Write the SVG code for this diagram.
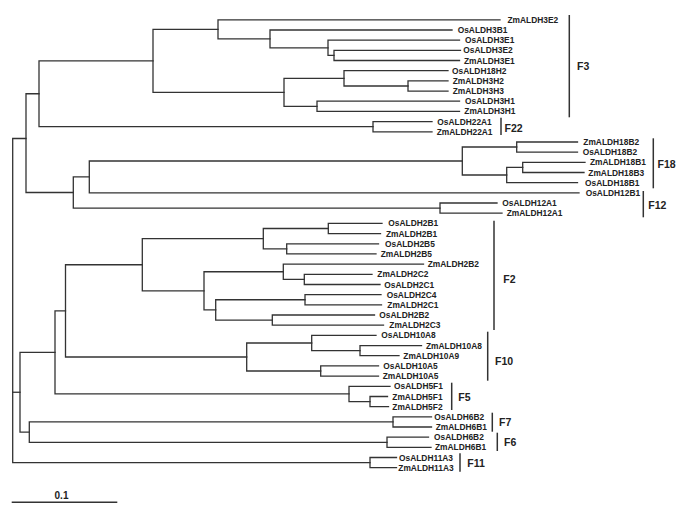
<svg xmlns="http://www.w3.org/2000/svg" width="685" height="521" viewBox="0 0 685 521">
<style>
.br{fill:none;stroke:#333;stroke-width:1.3;stroke-linecap:square;stroke-linejoin:miter}
.bar{stroke:#333;stroke-width:1.5}
.lf{font-family:"Liberation Sans",Arial,sans-serif;font-size:8.4px;font-weight:bold;fill:#222}
.fam{font-family:"Liberation Sans",Arial,sans-serif;font-size:10.5px;font-weight:bold;fill:#222}
</style>
<rect width="685" height="521" fill="#fff"/>
<g id="connectors" class="br">
<path d="M460.5,50.3 H334 V60.5 H459.5"/>
<path d="M459.5,40.2 H328 V55.4 H334"/>
<path d="M452,30 H270 V47.8 H328"/>
<path d="M500,19.8 H218 V38.9 H270"/>
<path d="M448,80.9 H408 V91.1 H448"/>
<path d="M448,70.7 H344 V86 H408"/>
<path d="M459.5,101.2 H317 V111.4 H459.5"/>
<path d="M344,78.35 H284 V106.3 H317"/>
<path d="M218,29.35 H153 V92.3 H284"/>
<path d="M432,121.6 H373 V131.8 H432"/>
<path d="M153,60.8 H39 V126.7 H373"/>
<path d="M577.5,142 H516.7 V152.1 H577.5"/>
<path d="M585,162.3 H522.7 V172.5 H584"/>
<path d="M522.7,167.4 H506.7 V182.7 H577.5"/>
<path d="M516.7,147 H462.3 V175 H506.7"/>
<path d="M462.3,161 H89.3 V192.9 H579"/>
<path d="M497,203 H440 V213.2 H502"/>
<path d="M89.3,176.95 H73.3 V208.1 H440"/>
<path d="M39,93.75 H26 V192.5 H73.3"/>
<path d="M382,223.4 H328.3 V233.6 H380.5"/>
<path d="M378.5,243.8 H286.7 V253.9 H376"/>
<path d="M328.3,228.5 H263.3 V248.85 H286.7"/>
<path d="M372,274.3 H304.3 V284.5 H380"/>
<path d="M423.5,264.1 H283.3 V279.4 H304.3"/>
<path d="M381,294.7 H305 V304.8 H381.5"/>
<path d="M374.5,315 H272.3 V325.2 H383.5"/>
<path d="M305,299.75 H215.7 V320.1 H272.3"/>
<path d="M283.3,271.75 H204 V309.9 H215.7"/>
<path d="M263.3,238.7 H142.3 V290.8 H204"/>
<path d="M421.5,345.6 H360 V355.7 H399"/>
<path d="M376,335.4 H311.7 V350.65 H360"/>
<path d="M378.5,365.9 H320.7 V376.1 H378.5"/>
<path d="M311.7,343 H246.7 V371 H320.7"/>
<path d="M142.3,264.75 H65.5 V357 H246.7"/>
<path d="M387.5,396.5 H370 V406.6 H388.5"/>
<path d="M390,386.3 H349 V401.55 H370"/>
<path d="M65.5,310.9 H55 V393.9 H349"/>
<path d="M431.5,416.8 H393 V427 H431.5"/>
<path d="M428.5,437.2 H387 V447.4 H431"/>
<path d="M393,421.9 H29.3 V442.3 H387"/>
<path d="M55,352.4 H20 V432.1 H29.3"/>
<path d="M396.5,457.5 H370 V467.7 H396.5"/>
<path d="M26,138.5 H12.7 V462.6 H370"/>
<path d="M12.7,392.25 H20"/>
</g>
<g id="leaves" class="lf">
<g id="n0"><text x="507.5" y="22.8">ZmALDH3E2</text></g>
<g id="n1"><text x="457.7" y="33">OsALDH3B1</text></g>
<g id="n2"><text x="465" y="43.2">OsALDH3E1</text></g>
<g id="n3"><text x="463.3" y="53.3">OsALDH3E2</text></g>
<g id="n4"><text x="464" y="63.5">ZmALDH3E1</text></g>
<g id="n5"><text x="452" y="73.7">OsALDH18H2</text></g>
<g id="n6"><text x="452.7" y="83.9">ZmALDH3H2</text></g>
<g id="n7"><text x="452.7" y="94.1">ZmALDH3H3</text></g>
<g id="n8"><text x="465" y="104.2">OsALDH3H1</text></g>
<g id="n9"><text x="464.3" y="114.4">ZmALDH3H1</text></g>
<g id="n10"><text x="437.3" y="124.6">OsALDH22A1</text></g>
<g id="n11"><text x="436.7" y="134.8">ZmALDH22A1</text></g>
<g id="n12"><text x="583.3" y="145">ZmALDH18B2</text></g>
<g id="n13"><text x="582.7" y="155.1">OsALDH18B2</text></g>
<g id="n14"><text x="590" y="165.3">ZmALDH18B1</text></g>
<g id="n15"><text x="588.3" y="175.5">ZmALDH18B3</text></g>
<g id="n16"><text x="585" y="185.7">OsALDH18B1</text></g>
<g id="n17"><text x="585.7" y="195.9">OsALDH12B1</text></g>
<g id="n18"><text x="502.3" y="206">OsALDH12A1</text></g>
<g id="n19"><text x="506.7" y="216.2">ZmALDH12A1</text></g>
<g id="n20"><text x="388.3" y="226.4">OsALDH2B1</text></g>
<g id="n21"><text x="386" y="236.6">ZmALDH2B1</text></g>
<g id="n22"><text x="385" y="246.8">OsALDH2B5</text></g>
<g id="n23"><text x="380.7" y="256.9">ZmALDH2B5</text></g>
<g id="n24"><text x="427.7" y="267.1">ZmALDH2B2</text></g>
<g id="n25"><text x="377.3" y="277.3">ZmALDH2C2</text></g>
<g id="n26"><text x="384.3" y="287.5">OsALDH2C1</text></g>
<g id="n27"><text x="386.7" y="297.7">OsALDH2C4</text></g>
<g id="n28"><text x="387.3" y="307.8">ZmALDH2C1</text></g>
<g id="n29"><text x="379.3" y="318">OsALDH2B2</text></g>
<g id="n30"><text x="389.3" y="328.2">ZmALDH2C3</text></g>
<g id="n31"><text x="381.3" y="338.4">OsALDH10A8</text></g>
<g id="n32"><text x="426" y="348.6">ZmALDH10A8</text></g>
<g id="n33"><text x="403.3" y="358.7">ZmALDH10A9</text></g>
<g id="n34"><text x="383.3" y="368.9">OsALDH10A5</text></g>
<g id="n35"><text x="382.7" y="379.1">ZmALDH10A5</text></g>
<g id="n36"><text x="394" y="389.3">OsALDH5F1</text></g>
<g id="n37"><text x="392.3" y="399.5">ZmALDH5F1</text></g>
<g id="n38"><text x="392.3" y="409.6">ZmALDH5F2</text></g>
<g id="n39"><text x="434.3" y="419.8">OsALDH6B2</text></g>
<g id="n40"><text x="435.7" y="430">ZmALDH6B1</text></g>
<g id="n41"><text x="434" y="440.2">OsALDH6B2</text></g>
<g id="n42"><text x="435" y="450.4">ZmALDH6B1</text></g>
<g id="n43"><text x="399" y="460.5">OsALDH11A3</text></g>
<g id="n44"><text x="398.3" y="470.7">ZmALDH11A3</text></g>
</g>
<g id="families" class="fam">
<g id="F3"><line class="bar" x1="569.3" y1="15" x2="569.3" y2="117.3"/><text x="577" y="69.8">F3</text></g>
<g id="F22"><line class="bar" x1="501" y1="117.7" x2="501" y2="135"/><text x="504.5" y="131.5">F22</text></g>
<g id="F18"><line class="bar" x1="653.3" y1="138.3" x2="653.3" y2="188.3"/><text x="657.5" y="167.8">F18</text></g>
<g id="F12"><line class="bar" x1="643.3" y1="191" x2="643.3" y2="217.3"/><text x="648.3" y="208.8">F12</text></g>
<g id="F2"><line class="bar" x1="494" y1="220.7" x2="494" y2="330"/><text x="503.3" y="283">F2</text></g>
<g id="F10"><line class="bar" x1="487.7" y1="331.7" x2="487.7" y2="380.7"/><text x="495" y="364.8">F10</text></g>
<g id="F5"><line class="bar" x1="451.7" y1="382.7" x2="451.7" y2="410"/><text x="458.3" y="401">F5</text></g>
<g id="F7"><line class="bar" x1="492.3" y1="412.7" x2="492.3" y2="431.7"/><text x="499" y="426">F7</text></g>
<g id="F6"><line class="bar" x1="497.3" y1="432.7" x2="497.3" y2="451"/><text x="504" y="445.5">F6</text></g>
<g id="F11"><line class="bar" x1="460" y1="453.3" x2="460" y2="471.7"/><text x="467.3" y="466.5">F11</text></g>
</g>
<g id="scale">
<line class="bar" x1="11.7" y1="502.3" x2="117.3" y2="502.3"/>
<text class="fam" x="61.5" y="498.5" text-anchor="middle" style="font-size:10px">0.1</text>
</g>
</svg>
